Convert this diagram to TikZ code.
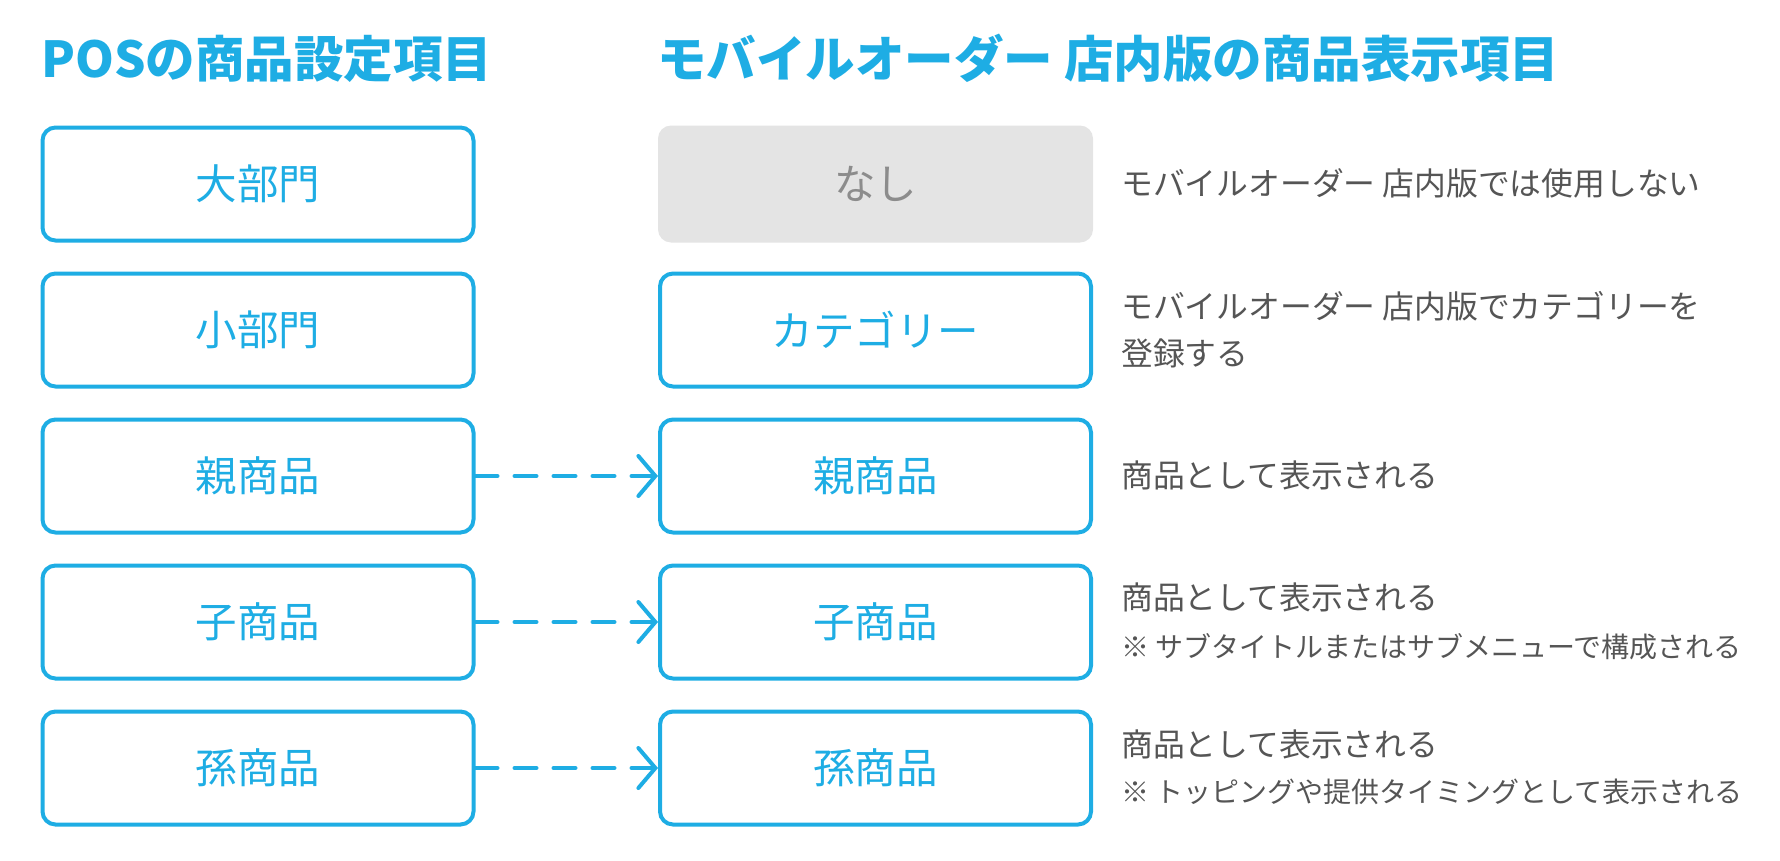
\documentclass[tikz,border=0pt]{standalone}
\usepackage{fontspec}
\setmainfont{Noto Sans CJK JP}
\usetikzlibrary{arrows.meta}
\definecolor{sblue}{RGB}{30,173,228}
\definecolor{dgray}{RGB}{85,85,85}
\definecolor{lgray}{RGB}{140,140,140}
\definecolor{boxgray}{RGB}{228,228,228}
\tikzset{
  itembox/.style={draw=sblue, line width=4pt, rounded corners=13pt, minimum width=431pt, minimum height=113pt, text=sblue, font=\fontsize{41.5}{41.5}\selectfont, inner sep=0pt},
  nonebox/.style={fill=boxgray, rounded corners=13pt, minimum width=435pt, minimum height=117pt, text=lgray, font=\fontsize{41.5}{41.5}\selectfont, inner sep=0pt},
  titletext/.style={anchor=base west, inner sep=0pt, text=sblue, font=\fontsize{49.5}{49.5}\selectfont\bfseries},
  desc/.style={anchor=base west, inner sep=0pt, text=dgray, font=\fontsize{31.8}{31.8}\selectfont},
  note/.style={anchor=base west, inner sep=0pt, text=dgray, font=\fontsize{28}{28}\selectfont},
  maparrow/.style={sblue, line width=4pt, dash pattern=on 22pt off 17pt, line cap=round, -{Straight Barb[length=17pt,width=40pt,line cap=round]}}
}
\begin{document}
\begin{tikzpicture}[x=1pt,y=-1pt]
\useasboundingbox (0,0) rectangle (1780,860);
\node[titletext] (t1) at (41,77) {POSの商品設定項目};
\node[titletext] (t2) at (657,77) {モバイルオーダー 店内版の商品表示項目};
% left column
\node[itembox] (l1) at (258,184) {大部門};
\node[itembox] (l2) at (258,330) {小部門};
\node[itembox] (l3) at (258,476) {親商品};
\node[itembox] (l4) at (258,622) {子商品};
\node[itembox] (l5) at (258,768) {孫商品};
% right column
\node[nonebox] (r1) at (875.5,184) {なし};
\node[itembox] (r2) at (875.5,330) {カテゴリー};
\node[itembox] (r3) at (875.5,476) {親商品};
\node[itembox] (r4) at (875.5,622) {子商品};
\node[itembox] (r5) at (875.5,768) {孫商品};
% arrows
\draw[maparrow] (l3.east) -- (r3.west);
\draw[maparrow] (l4.east) -- (r4.west);
\draw[maparrow] (l5.east) -- (r5.west);
% descriptions
\node[desc] (d1) at (1121,195) {モバイルオーダー 店内版では使用しない};
\node[desc] (d2a) at (1121,318) {モバイルオーダー 店内版でカテゴリーを};
\node[desc] (d2b) at (1121,365) {登録する};
\node[desc] (d3) at (1121,487) {商品として表示される};
\node[desc] (d4a) at (1121,609) {商品として表示される};
\node[note] (d4b) at (1121,657) {※ サブタイトルまたはサブメニューで構成される};
\node[desc] (d5a) at (1121,756) {商品として表示される};
\node[note] (d5b) at (1121,802) {※ トッピングや提供タイミングとして表示される};
\end{tikzpicture}
\end{document}
